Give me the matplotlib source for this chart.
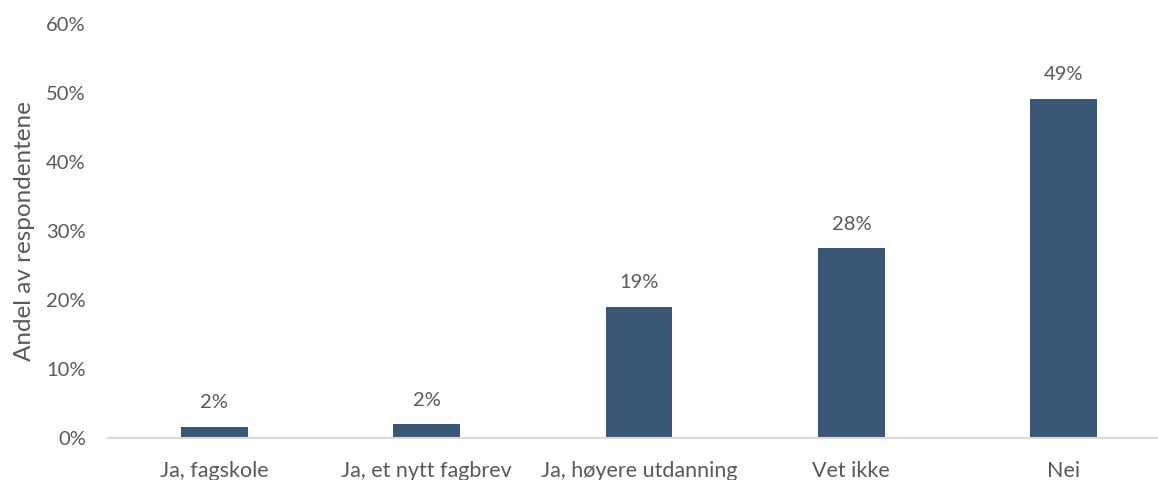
import matplotlib.pyplot as plt
from matplotlib.ticker import PercentFormatter

categories = ["Ja, fagskole", "Ja, et nytt fagbrev", "Ja, høyere utdanning", "Vet ikke", "Nei"]
shares = [1.7, 2.1, 19.1, 27.6, 49.2]
labels = ["2%", "2%", "19%", "28%", "49%"]

plt.rcParams["font.family"] = ["Lato", "DejaVu Sans"]
text_color = "#595959"

fig = plt.figure(figsize=(11.58, 4.8), dpi=100)
ax = fig.add_axes([0.0933, 0.0865, 0.917, 0.8635])

x = range(len(categories))
bars = ax.bar(x, shares, width=0.315, color="#3A5775")

for rect, lab in zip(bars, labels):
    ax.annotate(lab, (rect.get_x() + rect.get_width() / 2, rect.get_height()),
                xytext=(0, 11), textcoords="offset points", ha="center", va="bottom",
                fontsize=14.5, color=text_color)

ax.set_xlim(-0.5, len(categories) - 0.5)
ax.set_ylim(0, 60)
ax.set_yticks(range(0, 61, 10))
ax.yaxis.set_major_formatter(PercentFormatter(decimals=0))
ax.set_xticks(list(x))
ax.set_xticklabels(categories, fontsize=15.5)
ax.tick_params(axis="both", length=0, labelcolor=text_color)
ax.tick_params(axis="y", pad=16, labelsize=14.5)
ax.tick_params(axis="x", pad=16)
ax.set_ylabel("Andel av respondentene", fontsize=17.5, color=text_color, labelpad=8)

for side in ["top", "right", "left"]:
    ax.spines[side].set_visible(False)
ax.spines["bottom"].set_color("#D9D9D9")
ax.spines["bottom"].set_linewidth(1.5)

fig.savefig("out.png", dpi=100)
